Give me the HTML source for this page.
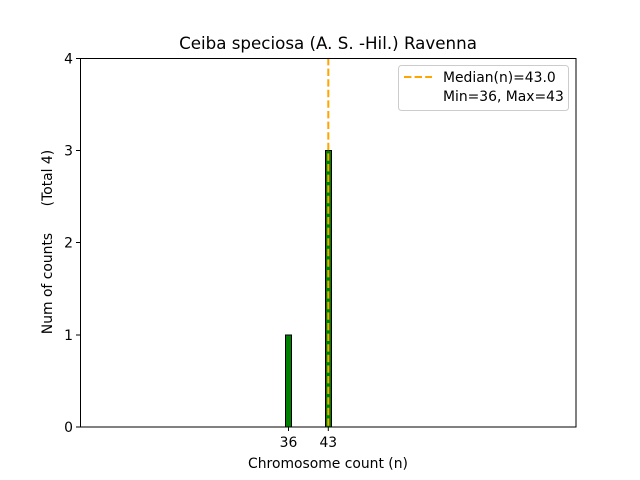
<!DOCTYPE html>
<html><head><meta charset="utf-8"><style>
html,body{margin:0;padding:0;background:#fff;}
svg{display:block;font-family:"DejaVu Sans","Liberation Sans",sans-serif;}
</style></head><body>
<svg width="640" height="480" viewBox="0 0 640 480" xmlns="http://www.w3.org/2000/svg">
<rect width="640" height="480" fill="#fff"/>
<text x="328" y="49" font-size="16.7" text-anchor="middle" fill="#000">Ceiba speciosa (A. S. -Hil.) Ravenna</text>
<line x1="80" y1="427" x2="348" y2="427" stroke="#888" stroke-width="1"/>
<rect x="285.5" y="335" width="6" height="92" fill="#008000" stroke="#000" stroke-width="1"/>
<rect x="325.5" y="150.5" width="6" height="276.5" fill="#008000" stroke="#000" stroke-width="1"/>
<line x1="328.3" y1="58" x2="328.3" y2="427" stroke="#FFA500" stroke-width="2" stroke-dasharray="7.4,3.2"/>
<rect x="80.5" y="58.5" width="495.5" height="368.5" fill="none" stroke="#000" stroke-width="1"/>
<g font-size="13.9" fill="#000" text-anchor="end">
<line x1="76" y1="427" x2="80" y2="427" stroke="#000"/><text x="73" y="432">0</text>
<line x1="76" y1="335" x2="80" y2="335" stroke="#000"/><text x="73" y="340">1</text>
<line x1="76" y1="242.5" x2="80" y2="242.5" stroke="#000"/><text x="73" y="247.5">2</text>
<line x1="76" y1="150.5" x2="80" y2="150.5" stroke="#000"/><text x="73" y="155.5">3</text>
<line x1="76" y1="58.5" x2="80" y2="58.5" stroke="#000"/><text x="73" y="63.5">4</text>
</g>
<g font-size="13.9" fill="#000" text-anchor="middle">
<line x1="288.5" y1="427" x2="288.5" y2="431" stroke="#000"/><text x="288.5" y="447">36</text>
<line x1="328.3" y1="427" x2="328.3" y2="431" stroke="#000"/><text x="328.3" y="447">43</text>
</g>
<text x="328" y="468" font-size="13.9" text-anchor="middle">Chromosome count (n)</text>
<text transform="translate(52,242) rotate(-90)" font-size="13.9" text-anchor="middle" xml:space="preserve">Num of counts      (Total 4)</text>
<rect x="398.5" y="65.5" width="170" height="45" rx="3" fill="#fff" stroke="#ccc" stroke-width="1"/>
<line x1="404" y1="77" x2="432" y2="77" stroke="#FFA500" stroke-width="2" stroke-dasharray="7.4,3.2"/>
<text x="443" y="82" font-size="13.9">Median(n)=43.0</text>
<text x="443" y="101" font-size="13.9">Min=36, Max=43</text>
</svg>
</body></html>
